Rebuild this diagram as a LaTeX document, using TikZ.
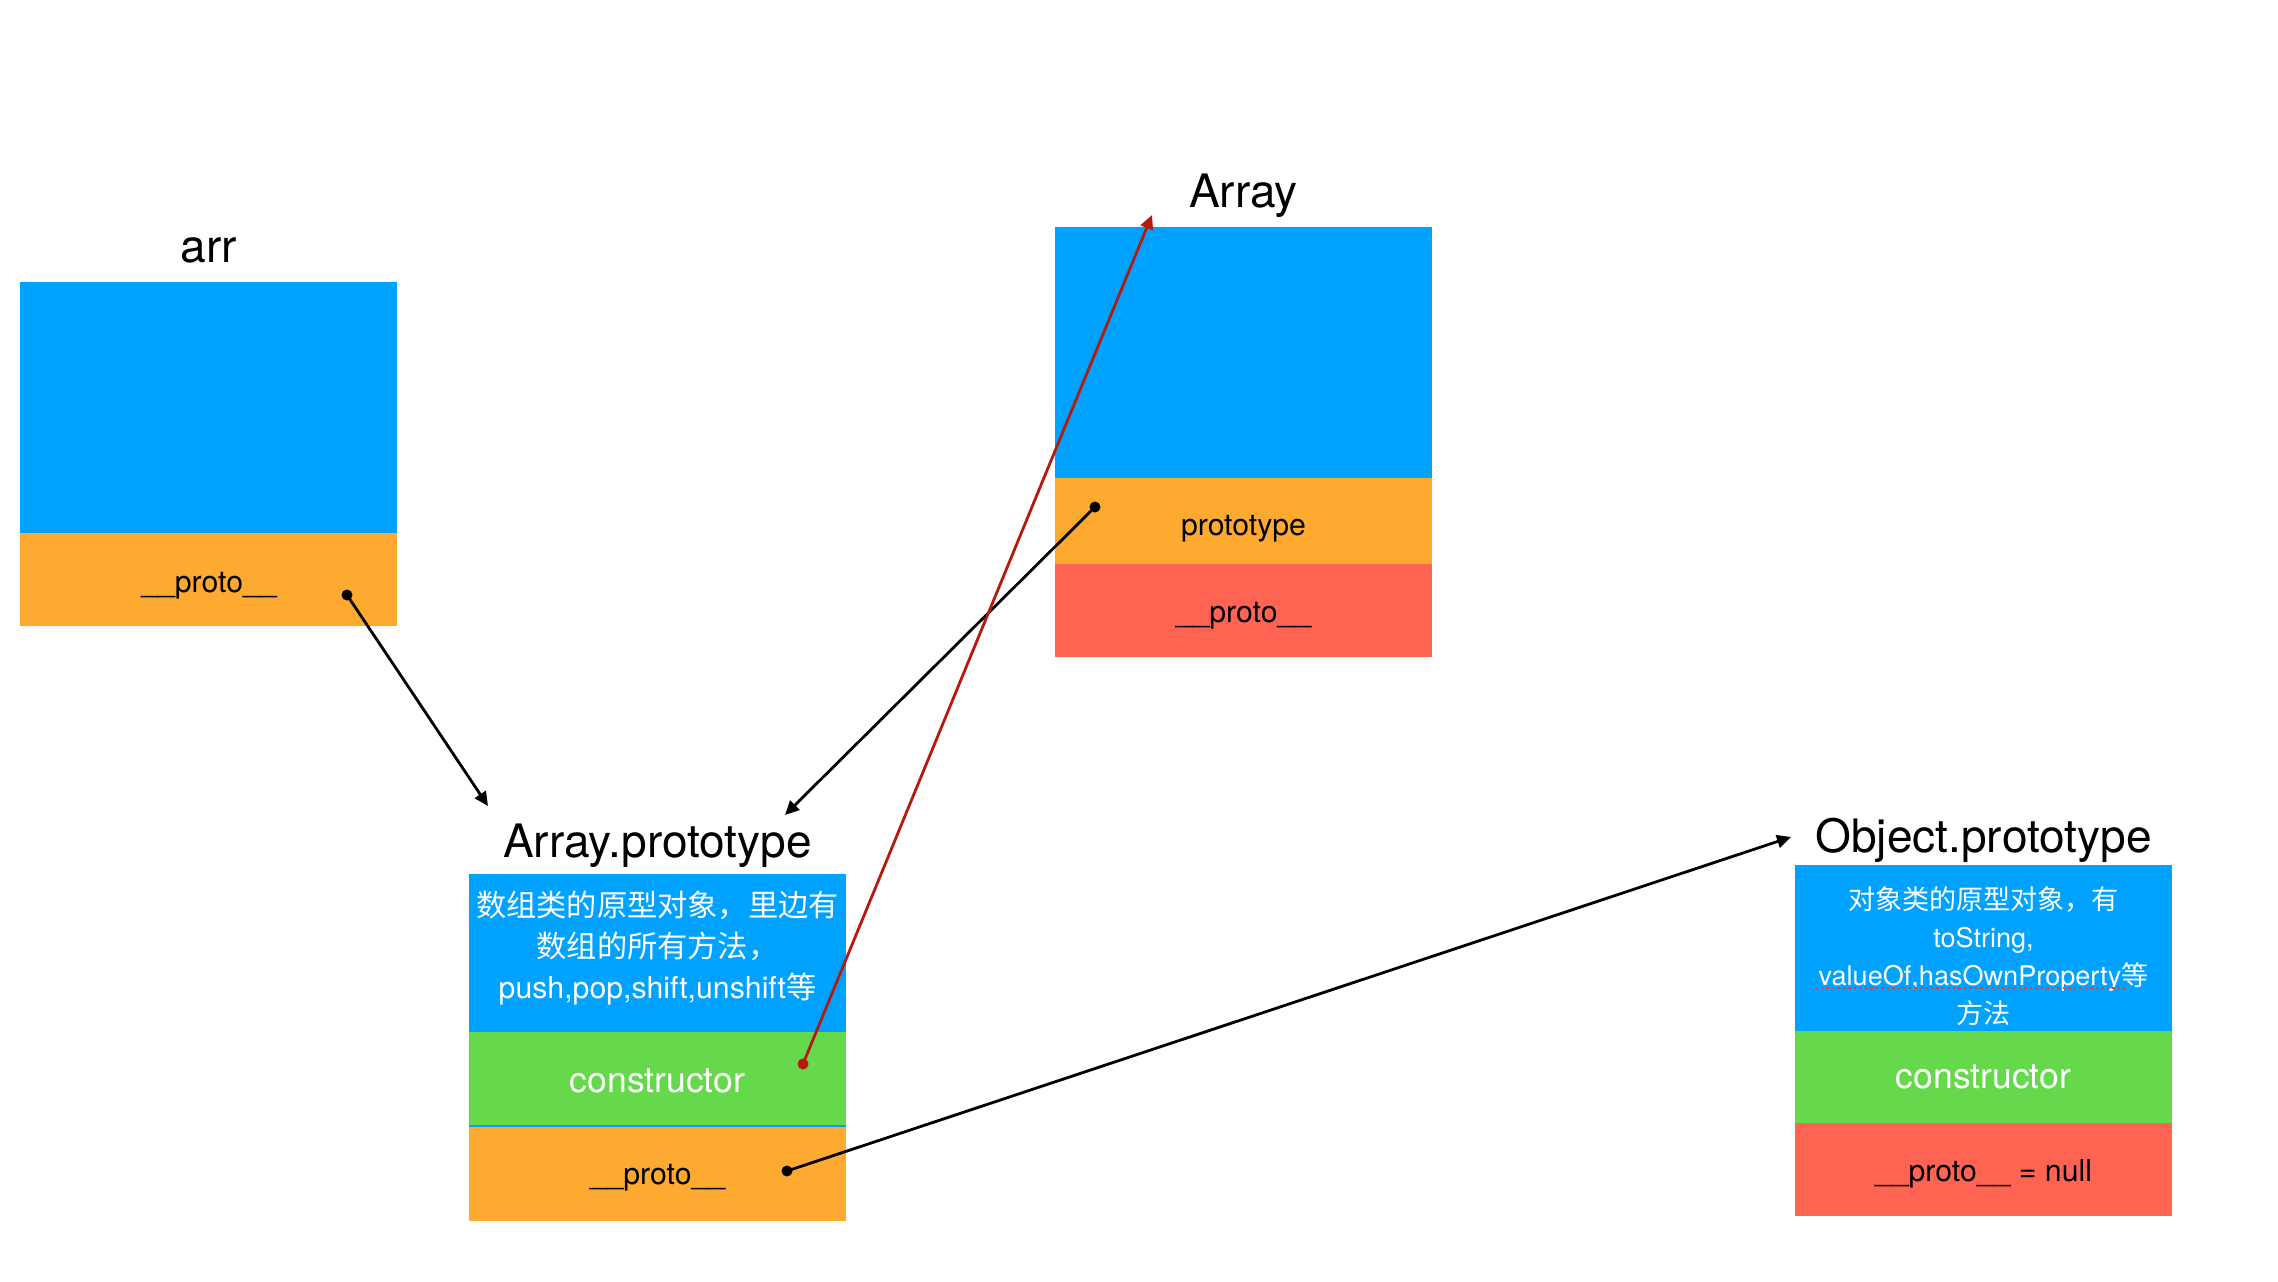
\documentclass[tikz,border=0pt]{standalone}
\usepackage{fontspec}
\setmainfont{TeX Gyre Heros}
\newfontfamily\cjk{Noto Sans CJK SC}
\usetikzlibrary{arrows.meta}
\definecolor{cblue}{RGB}{0,162,255}
\definecolor{corange}{RGB}{254,170,49}
\definecolor{cred}{RGB}{255,99,82}
\definecolor{cgreen}{RGB}{102,216,75}
\definecolor{carrow}{RGB}{181,26,15}
\definecolor{cspell}{RGB}{235,60,50}
\begin{document}
\begin{tikzpicture}[x=0.01cm,y=-0.01cm,
  cell/.style={inner sep=0pt, outer sep=0pt, minimum width=3.77cm, anchor=north west},
  ttl/.style={inner sep=0pt, anchor=base, font=\fontsize{13.1}{15}\selectfont},
  lab/.style={inner sep=0pt, anchor=base, font=\fontsize{8.6}{10}\selectfont},
  wlab/.style={inner sep=0pt, anchor=base, text=white, font=\fontsize{10.1}{12}\selectfont},
  desc/.style={inner sep=0pt, text=white, align=center},
  conn/.style={-{Triangle[length=0.14cm,width=0.13cm]}, line width=0.028cm},
  dotn/.style={circle, fill, inner sep=0pt, minimum size=0.11cm}]
\useasboundingbox (0,0) rectangle (2278,1282);
\fill[white] (0,0) rectangle (2278,1282);

% arr
\node[cell, fill=cblue, minimum height=2.51cm] (arrB) at (20,282) {};
\node[cell, fill=corange, minimum height=0.93cm] (arrP) at (20,533) {};
\node[ttl] (arrT) at (209,263) {arr};
\node[lab] (arrPT) at (209,592) {\_\_proto\_\_};

% Array
\node[cell, fill=cblue, minimum height=2.51cm] (ArB) at (1055,227) {};
\node[cell, fill=corange, minimum height=0.86cm] (ArP) at (1055,478) {};
\node[cell, fill=cred, minimum height=0.93cm] (ArR) at (1055,564) {};
\node[ttl] (ArT) at (1243.5,208) {Array};
\node[lab] (ArPT) at (1243.5,535) {prototype};
\node[lab] (ArRT) at (1243.5,622) {\_\_proto\_\_};

% Array.prototype
\fill[cblue] (469,874) rectangle (846,1127);
\node[cell, fill=cblue, minimum height=1.58cm] (ApB) at (469,874) {};
\node[cell, fill=cgreen, minimum height=0.93cm] (ApC) at (469,1032) {};
\node[cell, fill=corange, minimum height=0.94cm] (ApP) at (469,1127) {};
\node[ttl] (ApT) at (657.5,857) {Array.prototype};
\node[desc, font=\fontsize{8.6}{11.7}\selectfont] (ApD) at (657.5,948)
  {{\cjk 数组类的原型对象，里边有}\\{\cjk 数组的所有方法，}\\push,pop,shift,unshift{\cjk 等}};
\node[wlab] (ApCT) at (657.5,1092) {constructor};
\node[lab] (ApPT) at (657.5,1184) {\_\_proto\_\_};

% Object.prototype
\node[cell, fill=cblue, minimum height=1.66cm] (ObB) at (1795,865) {};
\node[cell, fill=cgreen, minimum height=0.92cm] (ObC) at (1795,1031) {};
\node[cell, fill=cred, minimum height=0.93cm] (ObR) at (1795,1123) {};
\node[ttl] (ObT) at (1983.5,852) {Object.prototype};
\node[desc, font=\fontsize{7.7}{10.8}\selectfont] (ObD) at (1983.5,956)
  {{\cjk 对象类的原型对象，有}\\toString,\\valueOf,hasOwnProperty{\cjk 等}\\{\cjk 方法}};
\draw[cspell, line width=0.025cm, dash pattern=on 0.025cm off 0.03cm] (1815,988) -- (2125,988);
\node[wlab] (ObCT) at (1983.5,1088) {constructor};
\node[lab] (ObRT) at (1983.5,1181) {\_\_proto\_\_ = null};

% dots and connectors
\node[dotn] (d1) at (347,595) {};
\node[dotn] (d2) at (1095,507) {};
\node[dotn, fill=carrow] (d3) at (803,1064) {};
\node[dotn] (d4) at (787,1171) {};
\coordinate (e1) at (488,806);
\coordinate (e2) at (785,815);
\coordinate (e3) at (1152,215);
\coordinate (e4) at (1791,837);
\draw[conn] (d1.center) -- (e1);
\draw[conn] (d2.center) -- (e2);
\draw[conn, draw=carrow, fill=carrow] (d3.center) -- (e3);
\draw[conn] (d4.center) -- (e4);
\end{tikzpicture}
\end{document}
